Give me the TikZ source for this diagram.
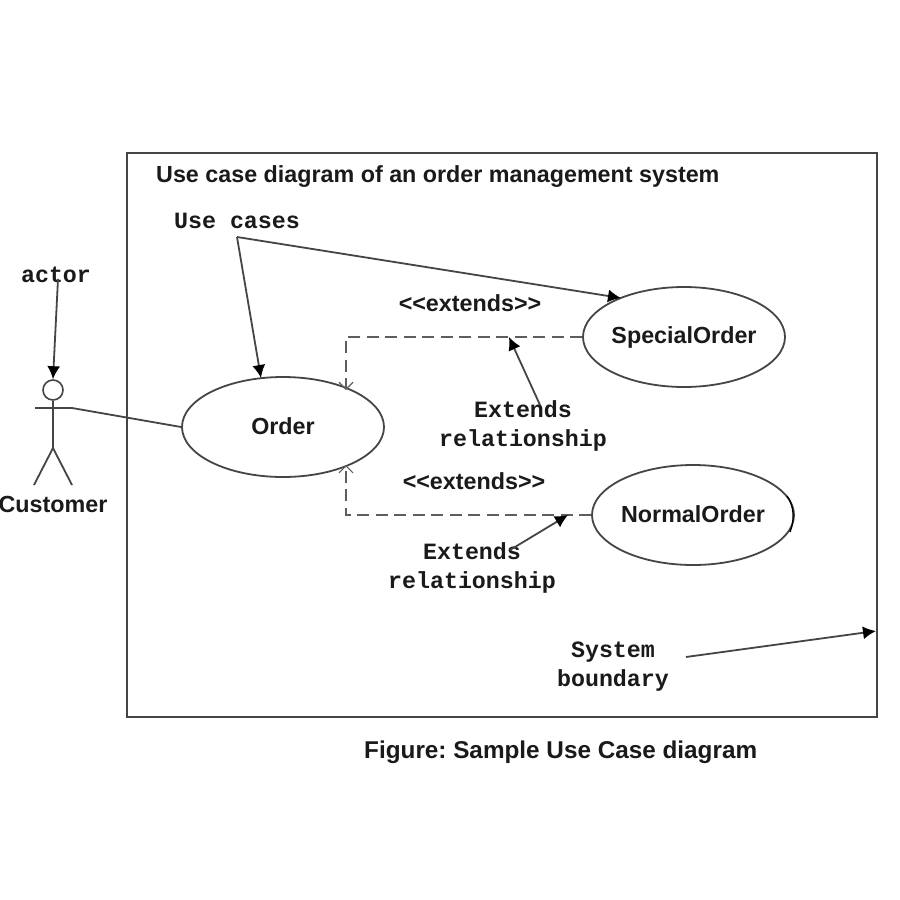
\documentclass[tikz,border=0pt]{standalone}
\usepackage{fontspec}
\setmainfont{Liberation Sans}
\setmonofont{Liberation Mono}
\usetikzlibrary{shapes.geometric,arrows.meta}
\definecolor{ln}{HTML}{454545}
\definecolor{tx}{HTML}{1A1A1A}
\definecolor{dashc}{HTML}{5E5E5E}
\tikzset{
  usecase/.style={draw=ln,ellipse,line width=1.8pt,minimum width=202pt,minimum height=100pt,inner xsep=-20pt,inner ysep=0pt,text=tx,font=\fontsize{23.3}{27}\selectfont\bfseries},
  lbl/.style={inner sep=0pt,text=tx,font=\fontsize{23.3}{27}\selectfont\bfseries},
  mono/.style={inner sep=0pt,text=tx,align=center,font=\fontsize{23.3}{29}\selectfont\ttfamily\bfseries},
  line/.style={draw=ln,line width=1.8pt},
  note/.style={line,-{Latex[length=13pt,width=13pt,color=black]}},
  dep/.style={draw=dashc,line width=2.2pt,dash pattern=on 12pt off 6.5pt,-{Straight Barb[length=7pt,width=14pt,line width=1.2pt]}},
}
\begin{document}
\frenchspacing
\begin{tikzpicture}[x=1pt,y=-1pt]
\useasboundingbox[fill=white] (0,0) rectangle (900,900);
\node[draw=ln,line width=2.4pt,minimum width=750pt,minimum height=564pt,inner sep=0pt] (boundary) at (502,435) {};
\node[lbl,anchor=west] (title) at (156,177) {Use case diagram of an order management system};
\node[mono] (ucl) at (237,221) {Use cases};
\node[mono] (actorl) at (56,275) {actor};
\node[usecase] (order) at (283,427) {\raisebox{1pt}{Order}};
\node[usecase] (special) at (684,337) {SpecialOrder};
\node[usecase] (normal) at (693,515) {\raisebox{1pt}{NormalOrder}};
\node[lbl] (ext1) at (470,303) {{<}{<}extends{>}{>}};
\node[lbl] (ext2) at (474,481) {{<}{<}extends{>}{>}};
\node[mono] (rel1) at (523,426) {Extends\\relationship};
\node[mono] (rel2) at (472,568) {Extends\\relationship};
\node[mono] (sysl) at (613,667) {System\\boundary};
\node[lbl] (customer) at (53,504) {Customer};
\node[lbl,anchor=west,font=\fontsize{24.3}{27}\selectfont\bfseries] (figcap) at (364,752) {Figure: Sample Use Case diagram};
% actor
\node[draw=ln,circle,line width=1.6pt,minimum size=20pt,inner sep=0pt] (head) at (53,390) {};
\coordinate (hip) at (53,448);
\coordinate (handl) at (35,408);
\coordinate (handr) at (72,408);
\coordinate (footl) at (34,485);
\coordinate (footr) at (72,485);
\draw[line] (head.south) -- (hip);
\draw[line] (hip) -- (footl);
\draw[line] (hip) -- (footr);
\draw[line] (handl) -- (handr) -- (order.west);
% notes
\coordinate (actorstart) at (58,279);
\coordinate (ucstart) at (237,237);
\draw[note] (actorstart) -- (head.north);
\draw[note] (ucstart) -- (261,378) coordinate (ordertop);
\draw[note] (ucstart) -- (621,298) coordinate (spectop);
% extends
\coordinate (c1) at (346,337);
\coordinate (c2) at (346,515);
\coordinate (e1) at (346,390);
\coordinate (e2) at (346,465);
\draw[dep] (special.west) -- (c1) -- (e1);
\draw[dep] (normal.west) -- (c2) -- (e2);
\coordinate (a1s) at (540,405);
\coordinate (a1e) at (509,337);
\coordinate (a2s) at (510,550);
\coordinate (a2e) at (568,515);
\coordinate (a3s) at (686,657);
\coordinate (a3e) at (876,631);
\draw[note] (a1s) -- (a1e);
\draw[note] (a2s) -- (a2e);
\draw[note] (a3s) -- (a3e);
% darker stretch of the NormalOrder outline
\draw[black,line width=1.3pt] (787,496) .. controls (794,505) and (795,520) .. (790,532);
\end{tikzpicture}
\end{document}
